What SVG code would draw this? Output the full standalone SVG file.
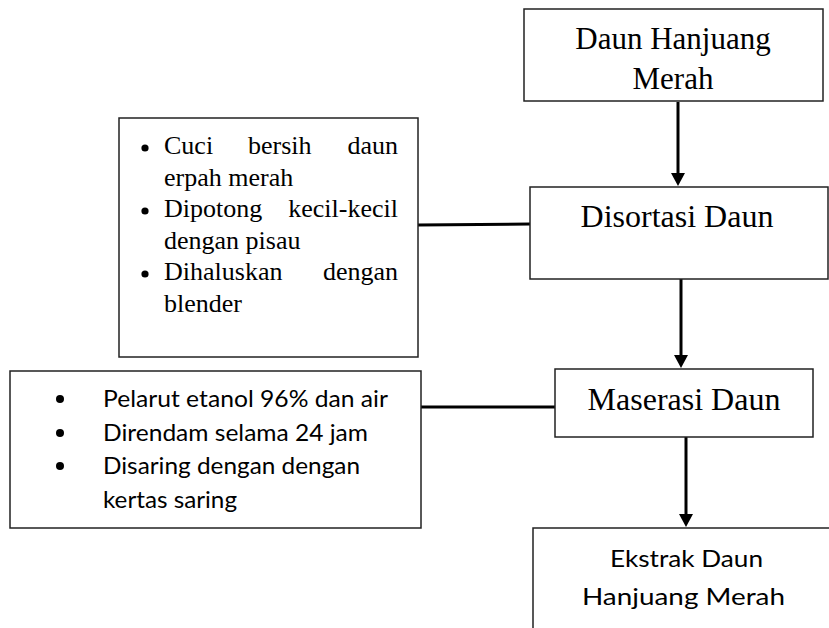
<svg xmlns="http://www.w3.org/2000/svg" width="829" height="628" viewBox="0 0 829 628">
<defs>
<marker id="arr" viewBox="0 0 13 14" refX="5" refY="7" markerWidth="13" markerHeight="14" markerUnits="userSpaceOnUse" orient="auto">
<path d="M0,0 L13,7 L0,14 z" fill="#000"/>
</marker>
</defs>
<style>
.box{fill:#fff;stroke:#222;stroke-width:1.5}
.serif{font-family:"Liberation Serif","Times New Roman",serif;fill:#000}
.sans{font-family:Lato,"Open Sans","Liberation Sans",sans-serif;fill:#000}
.conn{stroke:#000;stroke-width:3;fill:none}
</style>
<rect width="829" height="628" fill="#fff"/>
<g id="connectors">
<line class="conn" x1="678" y1="102" x2="678" y2="178" marker-end="url(#arr)"/>
<line class="conn" x1="681" y1="279" x2="681" y2="360" marker-end="url(#arr)"/>
<line class="conn" x1="686" y1="437" x2="686" y2="519" marker-end="url(#arr)"/>
<line class="conn" x1="418" y1="225" x2="530" y2="224"/>
<line class="conn" x1="421" y1="407" x2="555" y2="407"/>
</g>
<g id="daun-hanjuang-merah">
<rect class="box" x="524" y="9" width="299" height="92"/>
<text class="serif" font-size="31" text-anchor="middle" x="673" y="49">Daun Hanjuang</text>
<text class="serif" font-size="31" text-anchor="middle" x="673" y="89">Merah</text>
</g>
<g id="disortasi-daun">
<rect class="box" x="530" y="187" width="298" height="92"/>
<text class="serif" font-size="32" text-anchor="middle" x="677" y="227">Disortasi Daun</text>
</g>
<g id="persiapan">
<rect class="box" x="119" y="118" width="299" height="239"/>
<circle cx="145" cy="148" r="3.6"/>
<circle cx="145" cy="211" r="3.6"/>
<circle cx="145" cy="274" r="3.6"/>
<text class="serif" font-size="26" x="164" y="154">Cuci</text>
<text class="serif" font-size="26" x="248" y="154">bersih</text>
<text class="serif" font-size="26" x="398" y="154" text-anchor="end">daun</text>
<text class="serif" font-size="26" x="164" y="185.6">erpah merah</text>
<text class="serif" font-size="26" x="164" y="217">Dipotong</text>
<text class="serif" font-size="26" x="398" y="217" text-anchor="end">kecil-kecil</text>
<text class="serif" font-size="26" x="164" y="248.6">dengan pisau</text>
<text class="serif" font-size="26" x="164" y="280">Dihaluskan</text>
<text class="serif" font-size="26" x="398" y="280" text-anchor="end">dengan</text>
<text class="serif" font-size="26" x="164" y="312">blender</text>
</g>
<g id="maserasi-daun">
<rect class="box" x="555" y="369" width="258" height="68"/>
<text class="serif" font-size="32" text-anchor="middle" x="684" y="410">Maserasi Daun</text>
</g>
<g id="maserasi-detail">
<rect class="box" x="10" y="371" width="411" height="157"/>
<circle cx="60" cy="399" r="4"/>
<circle cx="60" cy="433" r="4"/>
<circle cx="60" cy="466" r="4"/>
<g class="sans" font-size="23.5">
<text x="103" y="407" textLength="285" lengthAdjust="spacingAndGlyphs">Pelarut etanol 96% dan air</text>
<text x="103" y="441" textLength="265" lengthAdjust="spacingAndGlyphs">Direndam selama 24 jam</text>
<text x="103" y="474" textLength="257" lengthAdjust="spacingAndGlyphs">Disaring dengan dengan</text>
<text x="103" y="508" textLength="134" lengthAdjust="spacingAndGlyphs">kertas saring</text>
</g>
</g>
<g id="ekstrak-daun">
<rect class="box" x="533" y="528" width="310" height="120"/>
<text class="sans" font-size="23.5" text-anchor="middle" x="686.5" y="567" textLength="153" lengthAdjust="spacingAndGlyphs">Ekstrak Daun</text>
<text class="sans" font-size="23.5" text-anchor="middle" x="683.5" y="605" textLength="203" lengthAdjust="spacingAndGlyphs">Hanjuang Merah</text>
</g>
</svg>
